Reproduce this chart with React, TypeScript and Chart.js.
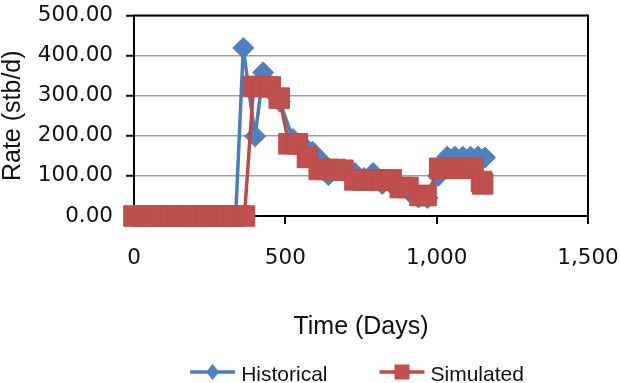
import React, { useEffect, useRef } from "react";
import { Chart, registerables } from "chart.js";

Chart.register(...registerables);

// ---- data ----
const seriesNames = ["Historical", "Simulated"];

const histDays = [0, 28, 56, 84, 112, 140, 168, 196, 224, 252, 280, 308, 336, 361, 400, 427, 455, 482, 525, 560, 590, 615, 642, 670, 700, 730, 760, 790, 820, 850, 880, 910, 940, 970, 1005, 1035, 1060, 1086, 1112, 1137, 1160];
const histRate = [0, 0, 0, 0, 0, 0, 0, 0, 0, 0, 0, 0, 0, 419, 199, 358, 310, 285, 192, 175, 160, 140, 102, 115, 112, 107, 95, 107, 80, 80, 75, 60, 46, 45, 100, 148, 148, 148, 148, 148, 146];

const simDays = [0, 30, 60, 90, 120, 150, 180, 210, 240, 270, 300, 330, 365, 395, 425, 450, 480, 512, 540, 573, 612, 640, 665, 690, 730, 760, 790, 820, 850, 880, 905, 945, 965, 1010, 1038, 1065, 1092, 1120, 1148, 1152];
const simRate = [0, 0, 0, 0, 0, 0, 0, 0, 0, 0, 0, 0, 0, 323, 323, 322, 294, 180, 180, 146, 116, 116, 116, 114, 90, 90, 90, 90, 90, 71, 71, 51, 51, 119, 119, 119, 119, 119, 86, 80];

const xMin = 0;
const xMax = 1500;
const xStep = 500;
const yMin = 0;
const yMax = 500;
const yStep = 100;

const BLUE = "#4F81BD";
const BLUE_LINE = "#4A7EBB";
const RED = "#C0504D";
const RED_LINE = "#BE4B48";
const TEXT = "#111111";

const TICK_FONT = { family: "'DejaVu Sans', sans-serif", size: 21.5 };
const TITLE_FONT = { family: "'Liberation Sans', Arial, sans-serif", size: 25 };

const framePlugin = {
  id: "frame",
  beforeDatasetsDraw(chart: any) {
    const { ctx, chartArea: a } = chart;
    ctx.save();
    ctx.strokeStyle = "#000";
    ctx.lineWidth = 2;
    ctx.strokeRect(a.left, a.top, a.right - a.left, a.bottom - a.top);
    ctx.restore();
  },
};

const legendPlugin = {
  id: "xlLegend",
  afterDraw(chart: any) {
    const { ctx, chartArea: a } = chart;
    ctx.save();
    ctx.font = "21px 'Liberation Sans', Arial, sans-serif";
    const lineLen = 45;
    const gap = 6;
    const spacing = 52;
    const ds = chart.data.datasets;
    const widths = ds.map((d: any) => ctx.measureText(d.label).width);
    const total =
      widths.reduce((s: number, w: number) => s + lineLen + gap + w, 0) +
      spacing * (widths.length - 1);
    let x = (a.left + a.right) / 2 - 4 - total / 2;
    const y = 372;
    ds.forEach((d: any, i: number) => {
      ctx.strokeStyle = d.borderColor;
      ctx.lineWidth = 3.5;
      ctx.beginPath();
      ctx.moveTo(x, y);
      ctx.lineTo(x + lineLen, y);
      ctx.stroke();
      const cx = x + lineLen / 2;
      ctx.fillStyle = d.pointBackgroundColor;
      ctx.beginPath();
      if (d.pointStyle === "rectRot") {
        ctx.moveTo(cx, y - 8);
        ctx.lineTo(cx + 6.5, y);
        ctx.lineTo(cx, y + 8);
        ctx.lineTo(cx - 6.5, y);
        ctx.closePath();
      } else {
        ctx.rect(cx - 7.5, y - 7.5, 15, 15);
      }
      ctx.fill();
      ctx.fillStyle = TEXT;
      ctx.textBaseline = "alphabetic";
      ctx.textAlign = "left";
      ctx.fillText(d.label, x + lineLen + gap, 380.5);
      x += lineLen + gap + widths[i] + spacing;
    });
    ctx.restore();
  },
};

export default function App() {
  const ref = useRef<HTMLCanvasElement>(null);
  useEffect(() => {
    const chart = new Chart(ref.current as HTMLCanvasElement, {
      type: "line",
      data: {
        datasets: [
          {
            label: seriesNames[0],
            data: histDays.map((x, i) => ({ x, y: histRate[i] })),
            borderColor: BLUE_LINE,
            backgroundColor: BLUE,
            pointBackgroundColor: BLUE,
            pointBorderColor: BLUE_LINE,
            pointStyle: "rectRot",
            pointRadius: 10.5,
            pointBorderWidth: 1,
            borderWidth: 3.5,
            tension: 0,
            clip: false as any,
            order: 1,
          },
          {
            label: seriesNames[1],
            data: simDays.map((x, i) => ({ x, y: simRate[i] })),
            borderColor: RED_LINE,
            backgroundColor: RED,
            pointBackgroundColor: RED,
            pointBorderColor: RED_LINE,
            pointStyle: "rect",
            pointRadius: 14.5,
            pointBorderWidth: 1,
            borderWidth: 3.5,
            tension: 0,
            clip: false as any,
            order: 0,
          },
        ],
      },
      options: {
        responsive: false,
        animation: false,
        devicePixelRatio: 1,
        layout: { padding: { left: 0, right: 32, top: 10, bottom: 0 } },
        plugins: {
          legend: { display: false },
          tooltip: { enabled: false },
        },
        scales: {
          x: {
            type: "linear",
            min: xMin,
            max: xMax,
            ticks: {
              stepSize: xStep,
              callback: (v: any) => Number(v).toLocaleString("en-US"),
              font: TICK_FONT,
              color: TEXT,
              padding: 22,
              maxRotation: 0,
              autoSkip: false,
            },
            grid: {
              drawOnChartArea: false,
              tickLength: 8,
              tickColor: "#000",
              tickWidth: 2,
              lineWidth: 2,
              color: "#000",
            },
            border: { color: "#000", width: 2 },
            title: {
              display: true,
              text: "Time (Days)",
              font: TITLE_FONT,
              color: TEXT,
              padding: { top: 0, bottom: 41 },
            },
            afterFit: (s: any) => {
              s.height = 167;
              s.paddingLeft = 0;
              s.paddingRight = 0;
            },
          },
          y: {
            type: "linear",
            min: yMin,
            max: yMax,
            ticks: {
              stepSize: yStep,
              callback: (v: any) => Number(v).toFixed(2),
              font: TICK_FONT,
              color: TEXT,
              padding: 13,
            },
            grid: {
              color: "#A0A0A0",
              lineWidth: 1.5,
              tickColor: "#000",
              tickWidth: 2,
              tickLength: 8,
            },
            border: { color: "#000", width: 2 },
            title: {
              display: true,
              text: "Rate (stb/d)",
              font: TITLE_FONT,
              color: TEXT,
              padding: { top: -2, bottom: 0 },
            },
            afterFit: (s: any) => {
              s.width = 134;
              s.paddingTop = 0;
              s.paddingBottom = 0;
            },
          },
        },
      } as any,
      plugins: [framePlugin, legendPlugin],
    });
    return () => chart.destroy();
  }, []);

  return (
    <div style={{ position: "fixed", left: 0, top: 0, width: 620, height: 383, background: "#fff" }}>
      <canvas ref={ref} width={620} height={383} style={{ display: "block", width: 620, height: 383 }} />
    </div>
  );
}
